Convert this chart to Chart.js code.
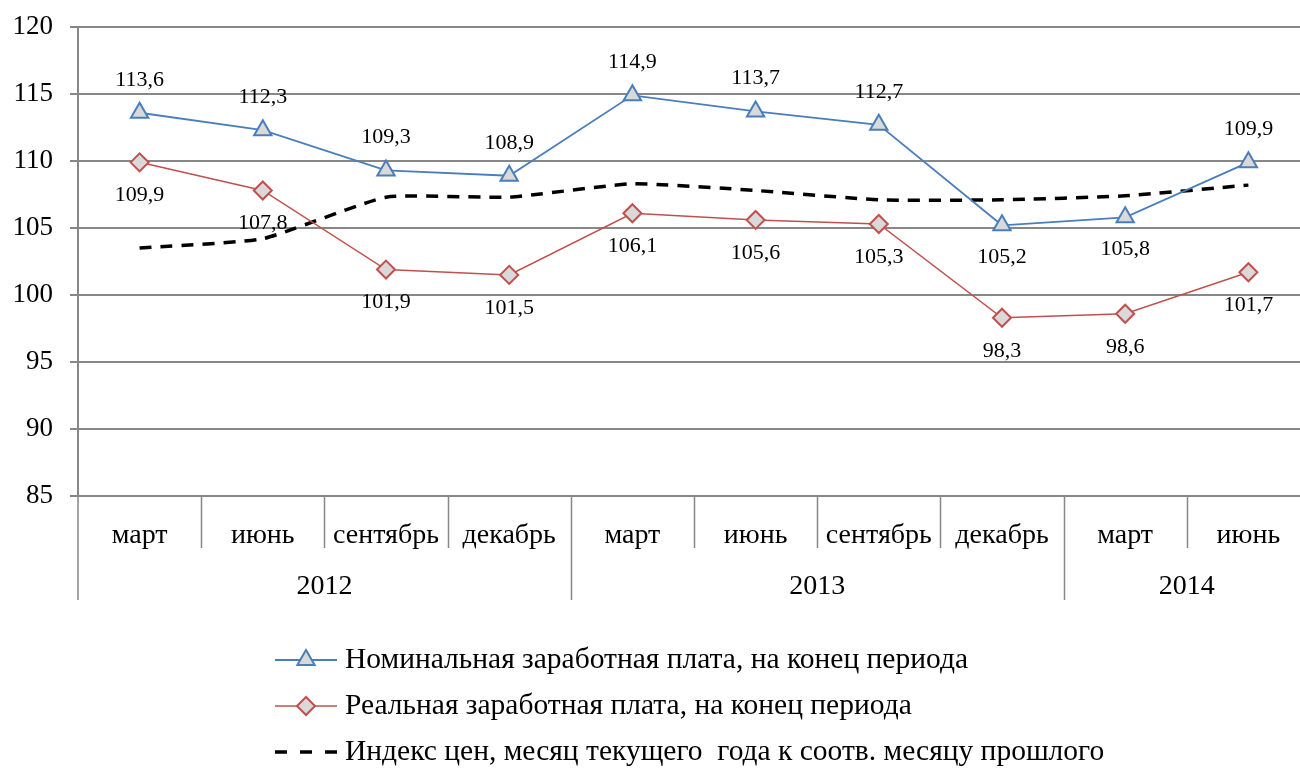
<!DOCTYPE html>
<html>
<head>
<meta charset="utf-8">
<script src="https://cdn.jsdelivr.net/npm/chart.js@4"></script>
<style>
  html, body { margin: 0; padding: 0; overflow: hidden; background: #fff; }
  #wrap { width: 1322px; height: 769px; }
</style>
</head>
<body>
<div id="wrap"><canvas id="chart" width="1322" height="769"></canvas></div>
<script>
const months = ['март', 'июнь', 'сентябрь', 'декабрь', 'март', 'июнь', 'сентябрь', 'декабрь', 'март', 'июнь'];
const years = ['2012', '2013', '2014'];
const yearSpans = [4, 4, 2]; // how many months in each year group
const nominal = [113.6, 112.3, 109.3, 108.9, 114.9, 113.7, 112.7, 105.2, 105.8, 109.9];
const real = [109.9, 107.8, 101.9, 101.5, 106.1, 105.6, 105.3, 98.3, 98.6, 101.7];
const priceIndex = [103.5, 104.2, 107.3, 107.3, 108.3, 107.8, 107.1, 107.1, 107.4, 108.2];
const nominalLabelSide = ['up', 'up', 'up', 'up', 'up', 'up', 'up', 'down', 'down', 'up'];
const realLabelSide = ['down', 'down', 'down', 'down', 'down', 'down', 'down', 'down', 'down', 'down'];
const seriesNames = [
  'Номинальная заработная плата, на конец периода',
  'Реальная заработная плата, на конец периода',
  'Индекс цен, месяц текущего  года к соотв. месяцу прошлого'
];

const FONT = "'Liberation Serif', 'Times New Roman', serif";
const GRID = '#878787';

// two-level category axis, value labels and legend
const extras = {
  id: 'extras',
  afterDraw(chart) {
    const ctx = chart.ctx;
    const x = chart.scales.x;
    const y = chart.scales.y;
    const area = chart.chartArea;
    const step = x.getPixelForValue(1) - x.getPixelForValue(0);

    ctx.save();
    // separators
    ctx.strokeStyle = GRID;
    ctx.lineWidth = 1.5;
    const yearEnds = [];
    let acc = 0;
    yearSpans.forEach(n => { acc += n; yearEnds.push(acc); });
    ctx.beginPath();
    ctx.moveTo(area.left, area.bottom);
    ctx.lineTo(area.left, area.bottom + 104);
    for (let i = 1; i < months.length; i++) {
      const sx = Math.round(x.getPixelForValue(i) - step / 2) + 0.5;
      const long = yearEnds.includes(i);
      ctx.moveTo(sx, area.bottom);
      ctx.lineTo(sx, area.bottom + (long ? 104 : 52));
    }
    ctx.stroke();

    // month & year labels
    ctx.fillStyle = '#000';
    ctx.font = '28px ' + FONT;
    ctx.textAlign = 'center';
    ctx.textBaseline = 'middle';
    months.forEach((m, i) => ctx.fillText(m, x.getPixelForValue(i), area.bottom + 40));
    let start = 0;
    years.forEach((yr, k) => {
      const end = start + yearSpans[k] - 1;
      const cx = (x.getPixelForValue(start) + x.getPixelForValue(end)) / 2;
      ctx.fillText(yr, cx, area.bottom + 91);
      start = end + 1;
    });

    // value labels
    ctx.font = '22px ' + FONT;
    const fmt = v => v.toFixed(1).replace('.', ',');
    nominal.forEach((v, i) => {
      const py = y.getPixelForValue(v);
      ctx.fillText(fmt(v), x.getPixelForValue(i), nominalLabelSide[i] === 'up' ? py - 33 : py + 32);
    });
    real.forEach((v, i) => {
      const py = y.getPixelForValue(v);
      ctx.fillText(fmt(v), x.getPixelForValue(i), realLabelSide[i] === 'up' ? py - 33 : py + 33);
    });

    // legend
    const lx = 275, lw = 62;
    const rows = [660, 706, 752];
    chart.data.datasets.forEach((ds, k) => {
      const ly = rows[k];
      ctx.strokeStyle = ds.borderColor;
      ctx.lineWidth = ds.borderWidth;
      ctx.setLineDash(ds.borderDash ? [12, 13] : []);
      ctx.beginPath();
      ctx.moveTo(lx, ly);
      ctx.lineTo(lx + lw, ly);
      ctx.stroke();
      ctx.setLineDash([]);
      if (ds.pointRadius > 0) {
        ctx.fillStyle = ds.pointBackgroundColor;
        ctx.strokeStyle = ds.pointBorderColor;
        ctx.lineWidth = ds.pointBorderWidth;
        Chart.helpers.drawPoint(ctx, {
          pointStyle: ds.pointStyle,
          radius: ds.pointRadius,
          borderWidth: ds.pointBorderWidth,
          rotation: 0
        }, lx + lw / 2, ly);
      }
      ctx.fillStyle = '#000';
      ctx.font = '29.5px ' + FONT;
      ctx.textAlign = 'left';
      ctx.fillText(seriesNames[k], lx + lw + 8, ly);
    });
    ctx.restore();
  }
};

new Chart(document.getElementById('chart'), {
  type: 'line',
  data: {
    labels: months,
    datasets: [
      {
        label: seriesNames[0],
        data: nominal,
        borderColor: '#4a7ebb',
        borderWidth: 1.8,
        pointStyle: 'triangle',
        pointRadius: 10,
        pointBackgroundColor: '#d9d9d9',
        pointBorderColor: '#4a7ebb',
        pointBorderWidth: 2,
        tension: 0
      },
      {
        label: seriesNames[1],
        data: real,
        borderColor: '#c0504d',
        borderWidth: 1.5,
        pointStyle: 'rectRot',
        pointRadius: 9,
        pointBackgroundColor: '#d9d9d9',
        pointBorderColor: '#c0504d',
        pointBorderWidth: 2,
        tension: 0
      },
      {
        label: seriesNames[2],
        data: priceIndex,
        borderColor: '#000000',
        borderWidth: 3.5,
        borderDash: [12, 9],
        pointRadius: 0,
        tension: 0.15
      }
    ]
  },
  options: {
    responsive: false,
    animation: false,
    layout: { padding: { top: 27, right: 0, bottom: 273, left: 0 } },
    plugins: { legend: { display: false }, tooltip: { enabled: false } },
    scales: {
      x: {
        offset: true,
        grid: { display: false },
        border: { display: false },
        ticks: { display: false },
        afterFit(scale) {
          scale.height = 0;
          scale.paddingLeft = 0;
          scale.paddingRight = 0;
        }
      },
      y: {
        min: 85,
        max: 120,
        ticks: {
          stepSize: 5,
          color: '#000',
          padding: 17,
          font: { family: FONT, size: 27 }
        },
        grid: { color: GRID, lineWidth: 2, tickLength: 8 },
        border: { color: GRID, width: 2 },
        afterFit(scale) {
          scale.width = 78;
          scale.paddingTop = 0;
          scale.paddingBottom = 0;
        }
      }
    }
  },
  plugins: [extras]
});
</script>
</body>
</html>
